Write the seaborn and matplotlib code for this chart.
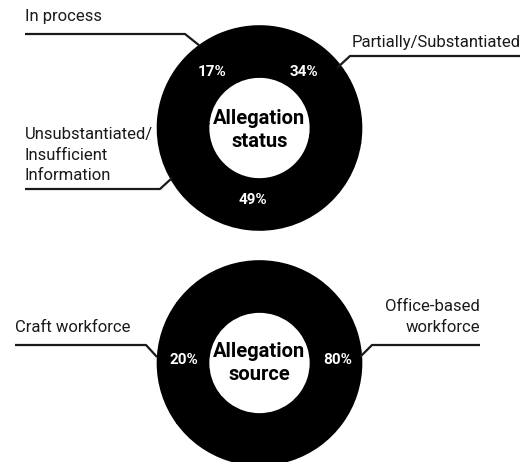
import matplotlib
matplotlib.use("Agg")
import matplotlib.pyplot as plt
import seaborn as sns

# data
status_labels = ["Partially/Substantiated", "Unsubstantiated/\nInsufficient\nInformation", "In process"]
status_values = [34, 49, 17]
source_labels = ["Craft workforce", "Office-based\nworkforce"]
source_values = [20, 80]

sns.set_theme(style="white")
plt.rcParams["font.family"] = ["Roboto", "DejaVu Sans"]

W, H = 523, 462
fig = plt.figure(figsize=(W / 100, H / 100), dpi=100)
ax = fig.add_axes([0, 0, 1, 1])
ax.set_xlim(0, W)
ax.set_ylim(0, H)
ax.set_aspect("equal")
ax.axis("off")


def py(y):
    # pixel row (from top) -> data y
    return H - y


R_OUT, R_IN = 102, 51
ring = dict(width=R_OUT - R_IN, edgecolor="black", linewidth=1.2)
txt = "#1a1a1a"
LBL = 12
PCT = 11
CTR = 14.5

# donut 1: allegation status
c1 = (259.5, py(128))
ax.pie(status_values, colors=["black"] * 3, radius=R_OUT, center=c1,
       startangle=114, counterclock=False, wedgeprops=ring, frame=True)
pct_pos1 = [(304, 72), (253, 200), (212, 72)]
for v, (x, y) in zip(status_values, pct_pos1):
    ax.text(x, py(y), f"{v}%", color="white", fontsize=PCT, fontweight="bold",
            ha="center", va="center")
ax.text(c1[0], py(130), "Allegation\nstatus", ha="center", va="center",
        fontsize=CTR, fontweight="bold", color="black", linespacing=1.3)

# donut 2: allegation source
c2 = (259.5, py(363))
ax.pie(source_values, colors=["black"] * 2, radius=R_OUT, center=c2,
       startangle=144, wedgeprops=ring, frame=True)
pct_pos2 = [(184, 360), (338, 360)]
for v, (x, y) in zip(source_values, pct_pos2):
    ax.text(x, py(y), f"{v}%", color="white", fontsize=PCT, fontweight="bold",
            ha="center", va="center")
ax.text(c2[0], py(363), "Allegation\nsource", ha="center", va="center",
        fontsize=CTR, fontweight="bold", color="black", linespacing=1.3)

# leader lines and category labels
lk = dict(color=txt, lw=1.6, solid_capstyle="butt")
ax.plot([25, 185, 200], [py(34), py(34), py(46)], **lk)
ax.text(25, py(17), status_labels[2], ha="left", va="center", fontsize=LBL, color=txt)

ax.plot([337, 350, 520], [py(68), py(56), py(56)], **lk)
ax.text(521, py(42), status_labels[0], ha="right", va="center", fontsize=LBL, color=txt)

ax.plot([25, 160, 172], [py(189), py(189), py(178)], **lk)
ax.text(25, py(155), status_labels[1], ha="left", va="center", fontsize=LBL,
        color=txt, linespacing=1.5)

ax.plot([15, 146, 157], [py(345), py(345), py(357)], **lk)
ax.text(15, py(327), source_labels[0], ha="left", va="center", fontsize=LBL, color=txt)

ax.plot([480, 372, 360], [py(345), py(345), py(357)], **lk)
ax.text(480, py(317), source_labels[1], ha="right", va="center", fontsize=LBL,
        color=txt, multialignment="right", linespacing=1.5)

ax.set_xlim(0, W)
ax.set_ylim(0, H)
ax.axis("off")
fig.savefig("out.png", dpi=100, facecolor="white")
